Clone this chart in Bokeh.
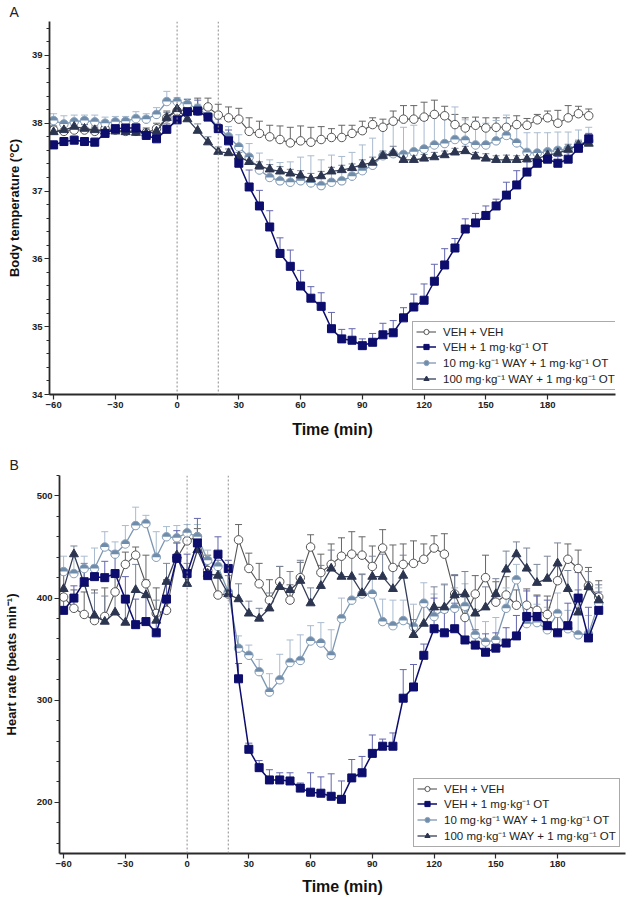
import numpy as np
from bokeh.plotting import figure
from bokeh.models import (ColumnDataSource, Range1d, FixedTicker, SingleIntervalTicker,
                          Span, Whisker, TeeHead, Legend, LegendItem, Title)
from bokeh.embed import file_html
from bokeh.resources import INLINE

# ---------------- data ----------------
times = [-60, -55, -50, -45, -40, -35, -30, -25, -20, -15, -10, -5, 0, 5, 10, 15, 20, 25, 30, 35,
         40, 45, 50, 55, 60, 65, 70, 75, 80, 85, 90, 95, 100, 105, 110, 115, 120, 125, 130, 135,
         140, 145, 150, 155, 160, 165, 170, 175, 180, 185, 190, 195, 200]

series_labels = ["VEH + VEH",
                 "VEH + 1 mg\u00b7kg\u207b\u00b9 OT",
                 "10 mg\u00b7kg\u207b\u00b9 WAY + 1 mg\u00b7kg\u207b\u00b9 OT",
                 "100 mg\u00b7kg\u207b\u00b9 WAY + 1 mg\u00b7kg\u207b\u00b9 OT"]

xticks = [-60, -30, 0, 30, 60, 90, 120, 150, 180]
xtick_labels = ["\u221260", "\u221230", "0", "30", "60", "90", "120", "150", "180"]
injection_times = [0, 20]

# Body temperature (deg C)
veh_temp = [37.90, 37.88, 37.90, 37.90, 37.88, 37.92, 37.90, 37.88, 37.88, 37.86, 37.92, 38.08,
            38.18, 38.20, 38.18, 38.24, 38.12, 38.08, 38.06, 37.88, 37.85, 37.80, 37.76, 37.71,
            37.74, 37.72, 37.76, 37.79, 37.79, 37.85, 37.89, 37.98, 37.94, 38.03, 38.06, 38.06,
            38.09, 38.13, 38.11, 37.98, 37.93, 37.97, 37.93, 37.94, 37.94, 37.98, 37.97, 38.05,
            38.08, 38.00, 38.08, 38.14, 38.11]
veh_temp_sem = [0.06, 0.08, 0.07, 0.08, 0.06, 0.07, 0.08, 0.07, 0.08, 0.07, 0.08, 0.10,
                0.14, 0.15, 0.19, 0.13, 0.16, 0.16, 0.16, 0.20, 0.18, 0.17, 0.20, 0.23,
                0.22, 0.22, 0.19, 0.13, 0.18, 0.12, 0.14, 0.10, 0.12, 0.15, 0.20, 0.20,
                0.22, 0.21, 0.14, 0.15, 0.15, 0.12, 0.15, 0.14, 0.14, 0.13, 0.10, 0.08,
                0.10, 0.19, 0.18, 0.11, 0.10]
ot_temp = [37.68, 37.73, 37.75, 37.73, 37.72, 37.85, 37.92, 37.93, 37.93, 37.82, 37.77, 37.91,
           38.05, 38.17, 38.18, 38.09, 37.92, 37.74, 37.41, 37.06, 36.78, 36.47, 36.08, 35.89,
           35.60, 35.42, 35.30, 34.97, 34.82, 34.80, 34.72, 34.77, 34.88, 34.91, 35.13, 35.29,
           35.39, 35.67, 35.91, 36.16, 36.44, 36.53, 36.64, 36.78, 36.94, 37.09, 37.28, 37.41,
           37.47, 37.41, 37.47, 37.63, 37.77]
ot_temp_sem = [0.06, 0.05, 0.06, 0.05, 0.06, 0.07, 0.06, 0.07, 0.06, 0.06, 0.07, 0.08,
               0.10, 0.14, 0.16, 0.12, 0.18, 0.16, 0.24, 0.25, 0.23, 0.24, 0.23, 0.24,
               0.23, 0.17, 0.20, 0.24, 0.14, 0.17, 0.10, 0.13, 0.17, 0.18, 0.15, 0.19,
               0.24, 0.25, 0.24, 0.14, 0.15, 0.14, 0.14, 0.10, 0.19, 0.21, 0.15, 0.12,
               0.10, 0.10, 0.12, 0.10, 0.08]
way10_temp = [38.04, 37.99, 38.02, 38.04, 38.02, 38.00, 38.02, 38.03, 38.07, 38.06, 38.13, 38.32,
              38.32, 38.28, 38.22, 38.11, 37.94, 37.80, 37.65, 37.50, 37.31, 37.20, 37.15, 37.13,
              37.15, 37.12, 37.08, 37.13, 37.15, 37.22, 37.30, 37.38, 37.52, 37.55, 37.54, 37.58,
              37.62, 37.68, 37.70, 37.76, 37.75, 37.68, 37.68, 37.74, 37.82, 37.71, 37.57, 37.56,
              37.58, 37.60, 37.62, 37.68, 37.74]
way10_temp_sem = [0.10, 0.12, 0.10, 0.08, 0.10, 0.09, 0.08, 0.07, 0.10, 0.08, 0.10, 0.15,
                  0.06, 0.08, 0.06, 0.08, 0.12, 0.15, 0.18, 0.20, 0.25, 0.26, 0.27, 0.30,
                  0.35, 0.40, 0.38, 0.40, 0.36, 0.35, 0.38, 0.40, 0.42, 0.43, 0.40, 0.39,
                  0.42, 0.42, 0.45, 0.48, 0.30, 0.35, 0.32, 0.30, 0.30, 0.28, 0.29, 0.30,
                  0.28, 0.27, 0.25, 0.22, 0.20]
way100_temp = [37.87, 37.90, 37.95, 37.92, 37.90, 37.88, 37.88, 37.87, 37.86, 37.85, 37.88, 38.08,
               38.21, 38.06, 37.89, 37.72, 37.58, 37.56, 37.51, 37.43, 37.37, 37.32, 37.29, 37.26,
               37.23, 37.18, 37.22, 37.29, 37.31, 37.34, 37.39, 37.42, 37.52, 37.56, 37.46, 37.46,
               37.48, 37.50, 37.53, 37.57, 37.59, 37.51, 37.48, 37.46, 37.46, 37.46, 37.47, 37.48,
               37.53, 37.56, 37.61, 37.68, 37.70]
way100_temp_sem = [0.08, 0.07, 0.08, 0.07, 0.06, 0.07, 0.06, 0.06, 0.07, 0.06, 0.07, 0.08,
                   0.08, 0.10, 0.10, 0.08, 0.07, 0.06, 0.06, 0.07, 0.06, 0.07, 0.07, 0.06,
                   0.07, 0.08, 0.07, 0.06, 0.07, 0.06, 0.07, 0.08, 0.07, 0.10, 0.06, 0.07,
                   0.06, 0.07, 0.06, 0.06, 0.07, 0.06, 0.07, 0.06, 0.07, 0.06, 0.06, 0.07,
                   0.08, 0.07, 0.08, 0.07, 0.06]

# Heart rate (beats min-1)
veh_hr = [401, 390, 384, 378, 382, 406, 433, 442, 414, 385, 388, 439,
          456, 460, 427, 403, 404, 457, 429, 414, 398, 416, 398, 420,
          450, 425, 433, 441, 443, 442, 431, 449, 430, 433, 434, 438,
          449, 443, 404, 381, 404, 420, 396, 403, 393, 393, 388, 384,
          417, 438, 429, 412, 401]
veh_hr_sem = [25, 18, 22, 30, 28, 20, 12, 8, 28, 25, 30, 15,
              10, 8, 15, 20, 22, 15, 15, 20, 20, 15, 15, 15,
              12, 18, 20, 18, 22, 18, 20, 18, 22, 20, 22, 15,
              12, 20, 18, 20, 18, 22, 20, 18, 15, 16, 15, 18,
              16, 15, 18, 18, 16]
ot_hr = [388, 400, 416, 421, 420, 424, 399, 374, 377, 366, 399, 439,
         424, 454, 422, 443, 429, 321, 252, 234, 222, 222, 221, 214,
         210, 209, 206, 203, 224, 229, 248, 255, 255, 302, 313, 344,
         370, 366, 370, 359, 354, 347, 351, 356, 363, 382, 382, 373,
         366, 373, 400, 361, 388]
ot_hr_sem = [14, 12, 15, 11, 16, 22, 22, 25, 25, 22, 18, 27,
             19, 24, 8, 17, 8, 15, 6, 7, 10, 7, 8, 5,
             19, 16, 22, 18, 18, 16, 18, 7, 13, 28, 22, 11,
             30, 20, 25, 20, 15, 18, 15, 15, 20, 25, 20, 25,
             20, 22, 25, 30, 18]
way10_hr = [426, 424, 429, 429, 450, 443, 453, 471, 473, 440, 460, 459,
            464, 460, 437, 431, 406, 351, 344, 328, 308, 320, 337, 339,
            358, 356, 344, 380, 398, 404, 404, 377, 373, 378, 372, 395,
            382, 389, 390, 392, 364, 357, 359, 390, 418, 375, 376, 369,
            385, 370, 364, 365, 395]
way10_hr_sem = [15, 18, 12, 20, 15, 12, 18, 18, 8, 25, 10, 12,
                8, 12, 10, 12, 20, 12, 10, 12, 18, 25, 22, 25,
                15, 20, 25, 20, 22, 20, 25, 22, 25, 20, 22, 20,
                22, 25, 20, 22, 25, 20, 22, 20, 15, 20, 18, 22,
                20, 18, 20, 18, 15]
way100_hr = [409, 443, 414, 383, 377, 386, 376, 408, 403, 378, 416, 442,
             414, 447, 424, 422, 404, 399, 385, 380, 390, 411, 408, 417,
             395, 412, 429, 421, 421, 405, 421, 421, 409, 422, 364, 375,
             391, 391, 403, 404, 385, 391, 404, 428, 443, 429, 415, 419,
             434, 409, 386, 411, 398]
way100_hr_sem = [18, 8, 20, 22, 25, 20, 22, 25, 15, 20, 18, 12,
                 20, 10, 12, 15, 18, 15, 12, 10, 15, 20, 18, 20,
                 15, 20, 18, 20, 22, 18, 20, 22, 18, 20, 15, 18,
                 20, 22, 20, 22, 18, 20, 15, 18, 12, 20, 18, 22,
                 20, 18, 22, 15, 15]

# ---------------- styling ----------------
FONT = "Liberation Sans"
NAVY = "#0c0d6c"
STEEL = "#6f8cab"
DARK = "#2c3550"


def make_panel(vals, sems, y_start, y_end, y_interval, ylabel, letter,
               width, height, borders, legend_xy, ylab_standoff, xlab_standoff,
               letter_offset, letter_standoff):
    bl, br, bt, bb = borders
    p = figure(width=width, height=height, output_backend="svg", toolbar_location=None,
               title=None, min_border_left=bl, min_border_right=br,
               min_border_top=bt, min_border_bottom=bb,
               x_range=Range1d(-62, 213), y_range=Range1d(y_start, y_end))
    p.outline_line_color = None
    p.xgrid.visible = False
    p.ygrid.visible = False
    p.background_fill_color = "white"

    p.add_layout(Title(text=letter, align="left", offset=letter_offset,
                       standoff=letter_standoff, text_font=FONT, text_font_size="14px",
                       text_font_style="normal", text_color="#222222"), "above")

    for ax in (p.xaxis[0], p.yaxis[0]):
        ax.axis_line_width = 1.8
        ax.axis_line_color = "#2a2a2a"
        ax.major_tick_line_color = "#2a2a2a"
        ax.major_tick_line_width = 1.2
        ax.major_tick_out = 5
        ax.major_tick_in = 0
        ax.minor_tick_line_color = "#2a2a2a"
        ax.minor_tick_out = 3
        ax.minor_tick_in = 0
        ax.major_label_text_font = FONT
        ax.major_label_text_font_style = "bold"
        ax.major_label_text_font_size = "9.5px"
        ax.major_label_text_color = "#222222"
        ax.major_label_standoff = 2
        ax.axis_label_text_font = FONT
        ax.axis_label_text_font_style = "bold"
        ax.axis_label_text_color = "#111111"

    xa = p.xaxis[0]
    xa.ticker = FixedTicker(ticks=xticks, minor_ticks=[])
    xa.major_label_overrides = {t: lab for t, lab in zip(xticks, xtick_labels)}
    xa.axis_label = "Time (min)"
    xa.axis_label_text_font_size = "16px"
    xa.axis_label_standoff = xlab_standoff

    ya = p.yaxis[0]
    ya.ticker = SingleIntervalTicker(interval=y_interval, num_minor_ticks=5)
    ya.axis_label = ylabel
    ya.axis_label_text_font_size = "13px"
    ya.axis_label_standoff = ylab_standoff

    for t0 in injection_times:
        p.add_layout(Span(location=t0, dimension="height", line_color="#8c8c8c",
                          line_dash="2 2", line_width=1))

    styles = [
        dict(marker="circle", size=8.5, fill="white", outline="#555555", line="#555555",
             err="#666666", lw=1.1),
        dict(marker="square", size=8, fill=NAVY, outline=NAVY, line=NAVY,
             err="#6366ad", lw=1.5),
        dict(marker="circle", size=8.5, fill=STEEL, outline="#8aa2bb", line="#7d97b2",
             err="#a9bbcf", lw=1.3),
        dict(marker="triangle", size=9, fill=DARK, outline=DARK, line="#353e58",
             err="#7a8497", lw=1.3),
    ]
    order = [0, 2, 3, 1]
    items = {}
    for i in order:
        st = styles[i]
        v = np.array(vals[i], dtype=float)
        s = np.array(sems[i], dtype=float)
        src = ColumnDataSource(dict(t=times, val=v, up=v + s))
        p.add_layout(Whisker(source=src, base="t", lower="val", upper="up",
                             line_color=st["err"], line_width=1,
                             upper_head=TeeHead(size=7, line_color=st["err"], line_width=1),
                             lower_head=None, level="underlay"))
        lr = p.line("t", "val", source=src, line_color=st["line"], line_width=st["lw"])
        mr = p.scatter("t", "val", source=src, marker=st["marker"], size=st["size"],
                       fill_color=st["fill"], line_color=st["outline"], line_width=1)
        if i == 2:
            # lower half of the half-filled circle is white
            p.wedge("t", "val", source=src, radius=3.7, radius_units="screen",
                    start_angle=np.pi, end_angle=2 * np.pi,
                    fill_color="white", line_color=None)
        items[i] = LegendItem(label=series_labels[i], renderers=[lr, mr])

    legend = Legend(items=[items[i] for i in range(4)], location=legend_xy,
                    border_line_color="#555555", border_line_width=1,
                    background_fill_color="white", background_fill_alpha=1.0,
                    label_text_font=FONT, label_text_font_size="11.5px",
                    label_text_color="#222222",
                    label_height=13, glyph_height=13, glyph_width=20,
                    spacing=1, padding=3, margin=0, label_standoff=7)
    p.add_layout(legend)
    return p


p1 = make_panel([veh_temp, ot_temp, way10_temp, way100_temp],
                [veh_temp_sem, ot_temp_sem, way10_temp_sem, way100_temp_sem],
                34, 39.5, 1, "Body temperature (\u00b0C)", "A",
                629, 440, (49, 14, 20, 42), (363, 4), 7, 10, -40, 3)
p2 = make_panel([veh_hr, ot_hr, way10_hr, way100_hr],
                [veh_hr_sem, ot_hr_sem, way10_hr_sem, way100_hr_sem],
                150, 520, 100, "Heart rate (beats min\u207b\u00b9)", "B",
                629, 457, (57, 4, 35, 44), (354, 6), 15, 8, -50, 6)

open("out.html", "w").write(file_html([p1, p2], INLINE))
